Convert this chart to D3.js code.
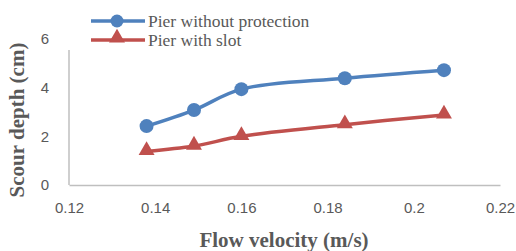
<!DOCTYPE html>
<html>
<head>
    <script src="https://d3js.org/d3.v7.min.js"></script>
    <style>
        body { margin: 0; background: #fff; }
    </style>
</head>
<body>
    <svg id="chart" width="516" height="251"></svg>

    <script>
        // data
        var velocity = [0.138, 0.149, 0.160, 0.184, 0.207];
        var noProtection = [2.42, 3.08, 3.94, 4.39, 4.72];
        var withSlot = [1.38, 1.60, 2.00, 2.48, 2.88];
        var xTicks = [0.12, 0.14, 0.16, 0.18, 0.2, 0.22];
        var yTicks = [0, 2, 4, 6];

        var serif = "'Liberation Serif', 'Times New Roman', serif";
        var sans = "'Liberation Sans', Arial, sans-serif";

        var svg = d3.select("#chart");

        var x = d3.scaleLinear().domain([0.12, 0.22]).range([69, 500]);
        var y = d3.scaleLinear().domain([0, 6]).range([185, 39]);

        // x axis
        var xAxis = svg.append("g")
            .attr("transform", "translate(0,185)")
            .call(d3.axisBottom(x).tickValues(xTicks).tickSize(0).tickPadding(17)
                .tickFormat(function(d) { return String(+d.toFixed(2)); }));
        xAxis.select(".domain").attr("stroke", "#bfbfbf").attr("stroke-width", 1.5);

        // y axis
        var yAxis = svg.append("g")
            .attr("transform", "translate(69,0)")
            .call(d3.axisLeft(y).tickValues(yTicks).tickSize(0).tickPadding(20).tickFormat(d3.format("d")));
        yAxis.select(".domain").remove();
        svg.append("line")
            .attr("x1", 69).attr("x2", 69)
            .attr("y1", 50).attr("y2", 185)
            .attr("stroke", "#bfbfbf").attr("stroke-width", 1.5);

        svg.selectAll(".tick text")
            .style("font-family", sans)
            .style("font-size", "15px")
            .style("fill", "#595959");

        // axis titles
        svg.append("text")
            .attr("x", 284).attr("y", 247)
            .attr("text-anchor", "middle")
            .style("font-family", serif).style("font-weight", "bold")
            .style("font-size", "21px").style("fill", "#595959")
            .text("Flow velocity (m/s)");
        svg.append("text")
            .attr("transform", "translate(24,120) rotate(-90)")
            .attr("text-anchor", "middle")
            .style("font-family", serif).style("font-weight", "bold")
            .style("font-size", "21px").style("fill", "#595959")
            .text("Scour depth (cm)");

        var line = d3.line()
            .x(function(d, i) { return x(velocity[i]); })
            .y(function(d) { return y(d); })
            .curve(d3.curveCatmullRom.alpha(0.5));

        var series = [
            { name: "Pier without protection", values: noProtection, color: "#4f81bd", marker: "circle" },
            { name: "Pier with slot", values: withSlot, color: "#c0504d", marker: "triangle" }
        ];

        var tri = d3.symbol().type(d3.symbolTriangle).size(110);

        series.forEach(function(s) {
            svg.append("path")
                .attr("d", line(s.values))
                .attr("fill", "none")
                .attr("stroke", s.color)
                .attr("stroke-width", 3.5);

            s.values.forEach(function(v, i) {
                if (s.marker == "circle") {
                    svg.append("circle")
                        .attr("cx", x(velocity[i])).attr("cy", y(v))
                        .attr("r", 7).attr("fill", s.color);
                } else {
                    svg.append("path")
                        .attr("d", tri())
                        .attr("transform", "translate(" + x(velocity[i]) + "," + (y(v) - 1) + ")")
                        .attr("fill", s.color);
                }
            });
        });

        // legend
        var legend = svg.append("g");
        series.forEach(function(s, i) {
            var ly = 21 + i * 19;
            legend.append("line")
                .attr("x1", 91).attr("x2", 145)
                .attr("y1", ly).attr("y2", ly)
                .attr("stroke", s.color).attr("stroke-width", 3.5);
            if (s.marker == "circle") {
                legend.append("circle").attr("cx", 117).attr("cy", ly).attr("r", 6.5).attr("fill", s.color);
            } else {
                legend.append("path").attr("d", tri())
                    .attr("transform", "translate(117," + (ly - 2) + ")")
                    .attr("fill", s.color);
            }
            legend.append("text")
                .attr("x", 148).attr("y", ly + 6)
                .style("font-family", serif).style("font-size", "17.5px").style("fill", "#595959")
                .text(s.name);
        });
    </script>
</body>
</html>
